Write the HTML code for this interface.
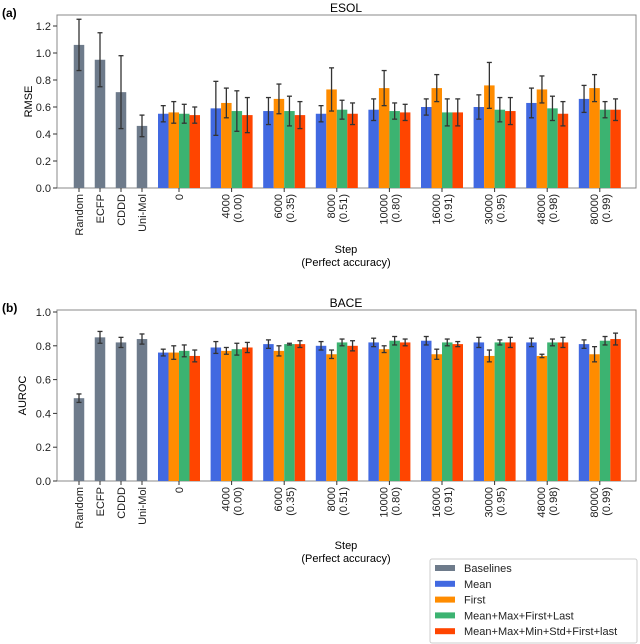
<!DOCTYPE html>
<html><head><meta charset="utf-8"><style>
body{margin:0;background:#fff}
svg{display:block;font-family:"Liberation Sans","DejaVu Sans",sans-serif}
</style></head><body>
<svg id="c" width="640" height="644" viewBox="0 0 640 644"></svg>
<script>
const baseCats=["Random","ECFP","CDDD","Uni-Mol"];
const groupCats=["0","4000\n(0.00)","6000\n(0.35)","8000\n(0.51)","10000\n(0.80)","16000\n(0.91)","30000\n(0.95)","48000\n(0.98)","80000\n(0.99)"];
const seriesNames=["Mean","First","Mean+Max+First+Last","Mean+Max+Min+Std+First+last"];
const esolBase=[1.06,0.95,0.71,0.46];
const esolBaseErr=[0.19,0.2,0.27,0.08];
const esolMean=[0.55,0.59,0.57,0.55,0.58,0.60,0.60,0.63,0.66];
const esolMeanErr=[0.06,0.20,0.10,0.06,0.08,0.06,0.09,0.11,0.10];
const esolFirst=[0.56,0.63,0.66,0.73,0.74,0.74,0.76,0.73,0.74];
const esolFirstErr=[0.08,0.11,0.11,0.16,0.13,0.10,0.17,0.10,0.10];
const esolMMFL=[0.55,0.57,0.57,0.58,0.57,0.56,0.58,0.59,0.58];
const esolMMFLErr=[0.07,0.15,0.11,0.07,0.06,0.10,0.09,0.09,0.06];
const esolAll=[0.54,0.54,0.54,0.55,0.56,0.56,0.57,0.55,0.58];
const esolAllErr=[0.06,0.13,0.10,0.08,0.06,0.10,0.10,0.09,0.08];
const baceBase=[0.49,0.85,0.82,0.84];
const baceBaseErr=[0.025,0.035,0.03,0.03];
const baceMean=[0.76,0.79,0.81,0.80,0.82,0.83,0.82,0.82,0.81];
const baceMeanErr=[0.02,0.035,0.025,0.025,0.025,0.025,0.03,0.025,0.025];
const baceFirst=[0.76,0.77,0.77,0.75,0.78,0.75,0.74,0.74,0.75];
const baceFirstErr=[0.04,0.02,0.03,0.025,0.02,0.03,0.035,0.01,0.045];
const baceMMFL=[0.77,0.78,0.81,0.82,0.83,0.82,0.82,0.82,0.83];
const baceMMFLErr=[0.035,0.035,0.005,0.02,0.025,0.02,0.015,0.02,0.025];
const baceAll=[0.74,0.79,0.81,0.80,0.82,0.81,0.82,0.82,0.84];
const baceAllErr=[0.035,0.03,0.02,0.03,0.02,0.015,0.03,0.03,0.035];
const esolTicks=[0,0.2,0.4,0.6,0.8,1.0,1.2];
const baceTicks=[0,0.2,0.4,0.6,0.8,1.0];

const NS="http://www.w3.org/2000/svg";
const svg=document.getElementById('c');
const colors=["#4169e1","#ff8c00","#3cb371","#ff4500"];
const gray="#6e7b8b";
function mk(t,a,p){const e=document.createElementNS(NS,t);for(const k in a)e.setAttribute(k,a[k]);(p||svg).appendChild(e);return e;}
const xBase=i=>79+21*i;
const xGroup=i=>179+52.6*i;
const BW=10.5;

function panel(o){
  const g=mk('g',{});
  
  
  const y=v=>o.y0-(v/o.ymaxv)*(o.y0-o.yref);
  // axes box
  const ax=mk('rect',{x:57,y:o.top,width:579,height:o.y0-o.top,fill:'none',stroke:'#888','stroke-width':1},g);
  
  const t=mk('text',{x:346,y:o.top-3,'text-anchor':'middle','font-size':12},g);t.textContent=o.title;
  
  const pl=mk('text',{x:2,y:o.top+2,'font-size':12,'font-weight':'bold'},g);pl.textContent=o.panel;
  
  o.ticks.forEach(v=>{
    mk('line',{x1:53,x2:57,y1:y(v),y2:y(v),stroke:'#333'},g);
    const tt=mk('text',{x:51,y:y(v)+4,'text-anchor':'end','font-size':11,fill:'#222'},g);
    tt.textContent=v.toFixed(1);
    
  });
  const yl=mk('text',{transform:`translate(${o.ylx},${(o.top+o.y0)/2}) rotate(-90)`,'text-anchor':'middle','font-size':11},g);
  yl.textContent=o.ylabel;
  function bar(cx,v,e,col){
    const r=mk('rect',{x:cx-BW/2,y:y(v),width:BW,height:o.y0-y(v),fill:col},g);
    
    const top=y(v+e),bot=y(v-e);
    mk('line',{x1:cx,x2:cx,y1:top,y2:bot,stroke:'#333','stroke-width':1.3},g);
    mk('line',{x1:cx-2.5,x2:cx+2.5,y1:top,y2:top,stroke:'#333','stroke-width':1.3},g);
    mk('line',{x1:cx-2.5,x2:cx+2.5,y1:bot,y2:bot,stroke:'#333','stroke-width':1.3},g);
  }
  function xlabel(cx,txt){
    mk('line',{x1:cx,x2:cx,y1:o.y0,y2:o.y0+4,stroke:'#333'},g);
    const lines=txt.split('\n');
    lines.forEach((ln,k)=>{
      const off=(k-(lines.length-1)/2)*12;
      const tx=mk('text',{transform:`translate(${cx+off+4},${o.y0+6}) rotate(-90)`,'text-anchor':'end','font-size':11,fill:'#222'},g);
      tx.textContent=ln;
    });
  }
  o.base.forEach((v,i)=>{bar(xBase(i),v,o.baseErr[i],gray);xlabel(xBase(i),baseCats[i]);});
  groupCats.forEach((c,i)=>{
    o.series.forEach((s,j)=>bar(xGroup(i)+(j-1.5)*BW,s[i],o.errs[j][i],colors[j]));
    xlabel(xGroup(i),c);
  });
  const s1=mk('text',{x:346,y:o.stepY,'text-anchor':'middle','font-size':11},g);s1.textContent='Step';
  
  const s2=mk('text',{x:346,y:o.stepY+13,'text-anchor':'middle','font-size':11},g);s2.textContent='(Perfect accuracy)';
  
}
panel({name:'esol-chart',title:'ESOL',panel:'(a)',top:15,y0:188,yref:26,ymaxv:1.2,ticks:esolTicks,ylabel:'RMSE',ylx:32,
  base:esolBase,baseErr:esolBaseErr,series:[esolMean,esolFirst,esolMMFL,esolAll],errs:[esolMeanErr,esolFirstErr,esolMMFLErr,esolAllErr],stepY:253});
panel({name:'bace-chart',title:'BACE',panel:'(b)',top:310,y0:481,yref:312,ymaxv:1.0,ticks:baceTicks,ylabel:'AUROC',ylx:26,
  base:baceBase,baseErr:baceBaseErr,series:[baceMean,baceFirst,baceMMFL,baceAll],errs:[baceMeanErr,baceFirstErr,baceMMFLErr,baceAllErr],stepY:549});
// legend
const lg=mk('g',{});

mk('rect',{x:430,y:559,width:207,height:84,fill:'#fff',stroke:'#ccc',rx:2},lg);
const lnames=["Baselines"].concat(seriesNames);
const lcols=[gray].concat(colors);
lnames.forEach((n,i)=>{
  const yy=568+15.8*i;
  mk('rect',{x:435,y:yy-3,width:20,height:6,fill:lcols[i]},lg);
  const t=mk('text',{x:464,y:yy+4,'font-size':11,fill:'#222'},lg);t.textContent=n;
  
});
</script>
</body></html>
